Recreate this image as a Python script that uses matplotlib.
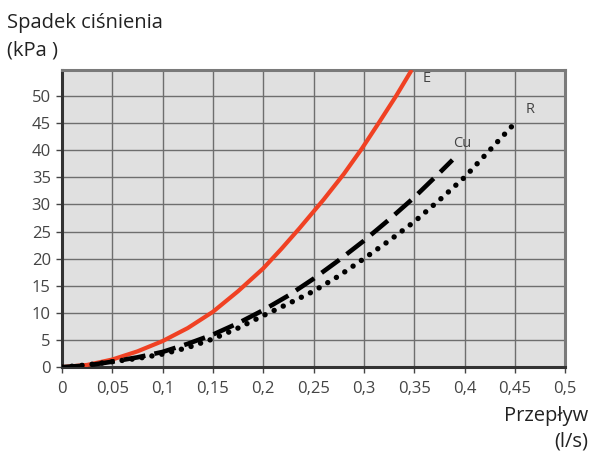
import matplotlib
matplotlib.use("Agg")
from matplotlib import pyplot as plt
import numpy as np

plt.rcParams["font.family"] = ["Open Sans", "DejaVu Sans"]

# readings (flow l/s, pressure drop kPa)
q_e = [0, 0.025, 0.05, 0.075, 0.1, 0.125, 0.15, 0.175, 0.2, 0.218,
       0.236, 0.26, 0.28, 0.298, 0.315, 0.332, 0.3475]
dp_e = [0, 0.4, 1.4, 2.9, 4.8, 7.2, 10.2, 14.0, 18.2, 21.8,
        25.6, 30.9, 35.6, 40.3, 45.1, 50.0, 54.8]

q_cu = [0, 0.025, 0.05, 0.075, 0.1, 0.125, 0.15, 0.175, 0.2, 0.225,
        0.25, 0.275, 0.3, 0.325, 0.35, 0.375, 0.388]
dp_cu = [0, 0.3, 1.0, 1.8, 2.8, 4.3, 6.0, 8.1, 10.5, 13.2,
         16.3, 19.7, 23.3, 27.2, 31.3, 35.8, 38.2]

q_r = [0, 0.025, 0.05, 0.075, 0.1, 0.125, 0.15, 0.175, 0.2, 0.225,
       0.25, 0.275, 0.3, 0.325, 0.35, 0.375, 0.4, 0.425, 0.451]
dp_r = [0, 0.4, 1.0, 1.6, 2.4, 3.6, 5.2, 7.2, 9.5, 11.7,
        14.0, 16.8, 20.0, 23.3, 26.8, 30.8, 35.0, 40.0, 45.2]

xticks = [0, 0.05, 0.1, 0.15, 0.2, 0.25, 0.3, 0.35, 0.4, 0.45, 0.5]
xlabels = ["0", "0,05", "0,1", "0,15", "0,2", "0,25", "0,3", "0,35", "0,4", "0,45", "0,5"]
yticks = [0, 5, 10, 15, 20, 25, 30, 35, 40, 45, 50]

txt = "#444444"

fig = plt.figure(figsize=(5.9, 4.51), dpi=100)
ax = fig.add_axes([0.105, 0.186, 0.853, 0.659])
ax.set_facecolor("#e0e0e0")

ax.plot(q_e, dp_e, color="#f04123", lw=3, solid_capstyle="butt",
        solid_joinstyle="round", zorder=3)
ax.plot(q_cu, dp_cu, color="black", lw=3.3, dashes=(4.8, 2.0),
        dash_joinstyle="round", zorder=3)
ax.plot(q_r, dp_r, color="black", lw=3.9, linestyle=(0, (0.01, 1.85)),
        dash_capstyle="round", zorder=3)

ax.text(0.358, 52.5, "E", color=txt, fontsize=10.5)
ax.text(0.389, 40.5, "Cu", color=txt, fontsize=10.5)
ax.text(0.461, 46.8, "R", color=txt, fontsize=10.5)

ax.set_xlim(0, 0.5)
ax.set_ylim(0, 54.8)
ax.set_xticks(xticks)
ax.set_xticklabels(xlabels)
ax.set_yticks(yticks)
ax.grid(True, color="#6e6e6e", lw=1)
ax.set_axisbelow(True)
ax.tick_params(colors=txt, labelsize=12, length=4, width=1, direction="out")
ax.tick_params(axis="x", pad=6)
ax.tick_params(axis="y", pad=4)

for s in ["left", "bottom"]:
    ax.spines[s].set_color("#333333")
    ax.spines[s].set_linewidth(2.2)
for s in ["top", "right"]:
    ax.spines[s].set_color("#7a7a7a")
    ax.spines[s].set_linewidth(2.2)

fig.text(0.012, 0.95, "Spadek ciśnienia", color="#222222", fontsize=14.5, va="center")
fig.text(0.012, 0.888, "(kPa )", color="#222222", fontsize=14.5, va="center")
fig.text(0.997, 0.078, "Przepływ", color="#222222", fontsize=14.5, va="center", ha="right")
fig.text(0.997, 0.02, "(l/s)", color="#222222", fontsize=14.5, va="center", ha="right")

fig.savefig("out.png", dpi=100)
